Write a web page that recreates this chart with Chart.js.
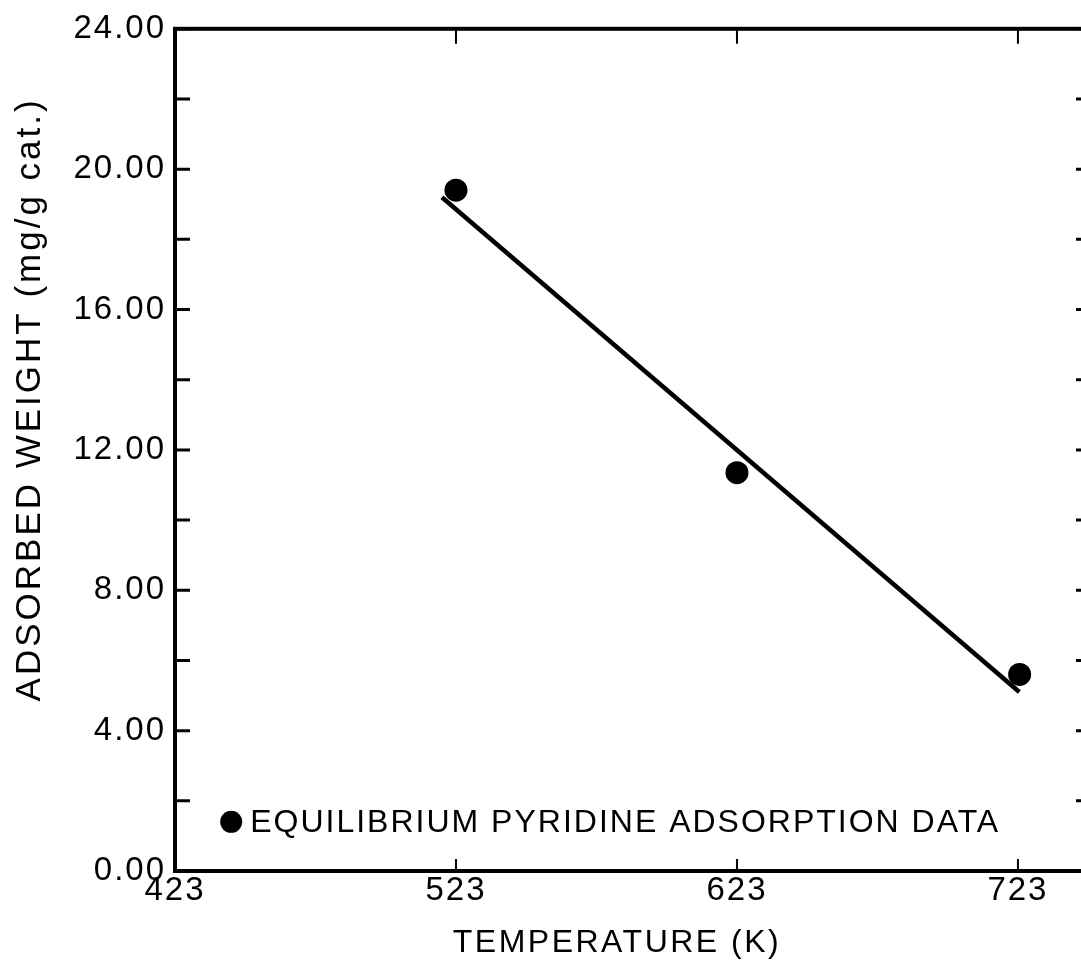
<!DOCTYPE html>
<html>
<head>
<meta charset="utf-8">
<title>Equilibrium pyridine adsorption</title>
<script src="https://cdn.jsdelivr.net/npm/chart.js@4.4.1/dist/chart.umd.min.js"></script>
<style>
  html, body { margin: 0; padding: 0; background: #fff; overflow: hidden; }
  canvas { display: block; }
</style>
</head>
<body>
<canvas id="chart" width="1110" height="970"></canvas>
<script>
// Measured equilibrium adsorption of pyridine
const temperatureK = [523, 623, 723.6];
const adsorbedWeight = [19.4, 11.35, 5.6];

// End points of the fitted straight line
const fitTemperatureK = [518, 723.5];
const fitWeight = [19.2, 5.1];

// Axis ticks
const xTickValues = [423, 523, 623, 723];
const yMin = 0, yMax = 24, yStep = 2, yLabelEvery = 4;

const xTitle = 'TEMPERATURE (K)';
const yTitle = 'ADSORBED WEIGHT (mg/g cat.)';
const legendText = 'EQUILIBRIUM PYRIDINE ADSORPTION DATA';

const FONT_FAMILY = '"Liberation Sans", Arial, Helvetica, sans-serif';
const INK = '#000';

// Boxed frame with inward tick marks on all four sides, titles and legend
const frameAndTicks = {
  id: 'frameAndTicks',
  beforeDraw(chart) {
    chart.ctx.letterSpacing = '2px';
  },
  beforeDatasetsDraw(chart) {
    const { ctx, chartArea: a, scales } = chart;
    ctx.save();
    ctx.strokeStyle = INK;
    ctx.lineWidth = 4;
    ctx.strokeRect(a.left, a.top, a.right - a.left, a.bottom - a.top);

    ctx.lineWidth = 3;
    scales.y.ticks.forEach(t => {
      const y = scales.y.getPixelForValue(t.value);
      ctx.beginPath();
      ctx.moveTo(a.left, y); ctx.lineTo(a.left + 15, y);
      ctx.moveTo(a.right, y); ctx.lineTo(a.right - 15, y);
      ctx.stroke();
    });

    ctx.lineWidth = 2;
    scales.x.ticks.forEach(t => {
      const x = scales.x.getPixelForValue(t.value);
      if (Math.abs(x - a.left) < 2) return;
      ctx.beginPath();
      ctx.moveTo(x, a.bottom); ctx.lineTo(x, a.bottom - 12);
      ctx.moveTo(x, a.top); ctx.lineTo(x, a.top + 15);
      ctx.stroke();
    });
    ctx.restore();
  },
  afterDraw(chart) {
    const { ctx, chartArea: a, scales } = chart;
    ctx.save();
    ctx.fillStyle = INK;
    ctx.textBaseline = 'middle';

    // x axis title
    ctx.letterSpacing = '2.5px';
    ctx.font = '32px ' + FONT_FAMILY;
    ctx.textAlign = 'center';
    ctx.fillText(xTitle, 617, a.bottom + 72);

    // y axis title
    ctx.save();
    ctx.letterSpacing = '3px';
    ctx.font = '35px ' + FONT_FAMILY;
    ctx.translate(30, a.top + (a.bottom - a.top) * 0.44);
    ctx.rotate(-Math.PI / 2);
    ctx.fillText(yTitle, 0, 0);
    ctx.restore();

    // legend entry inside the plot
    const lx = scales.x.getPixelForValue(443);
    const ly = scales.y.getPixelForValue(1.4);
    ctx.beginPath();
    ctx.arc(lx, ly, 11, 0, Math.PI * 2);
    ctx.fill();
    ctx.letterSpacing = '2px';
    ctx.font = '32px ' + FONT_FAMILY;
    ctx.textAlign = 'left';
    ctx.fillText(legendText, lx + 19, ly + 1);
    ctx.restore();
  }
};

const tickFont = { family: FONT_FAMILY, size: 33 };

new Chart(document.getElementById('chart'), {
  type: 'scatter',
  data: {
    datasets: [
      {
        label: 'fit',
        data: fitTemperatureK.map((x, i) => ({ x, y: fitWeight[i] })),
        showLine: true,
        borderColor: INK,
        borderWidth: 4.5,
        pointRadius: 0,
        fill: false
      },
      {
        label: legendText,
        data: temperatureK.map((x, i) => ({ x, y: adsorbedWeight[i] })),
        pointRadius: 11.5,
        pointBackgroundColor: INK,
        pointBorderWidth: 0,
        showLine: false
      }
    ]
  },
  options: {
    responsive: false,
    animation: false,
    devicePixelRatio: 1,
    layout: { padding: { left: 0, top: 28, right: 19, bottom: 0 } },
    plugins: { legend: { display: false }, tooltip: { enabled: false } },
    scales: {
      x: {
        type: 'linear',
        min: 423,
        max: 749,
        afterBuildTicks: s => { s.ticks = xTickValues.map(v => ({ value: v })); },
        afterFit: s => { s.height = 99; },
        grid: { display: false, drawTicks: false },
        border: { display: false },
        ticks: {
          font: tickFont,
          color: INK,
          padding: 0,
          maxRotation: 0,
          autoSkip: false,
          callback: v => String(v)
        }
      },
      y: {
        min: yMin,
        max: yMax,
        afterFit: s => { s.width = 175; },
        grid: { display: false, drawTicks: false },
        border: { display: false },
        ticks: {
          stepSize: yStep,
          font: tickFont,
          color: INK,
          padding: 9,
          autoSkip: false,
          callback: v => (v % yLabelEvery === 0 ? v.toFixed(2) : '')
        }
      }
    }
  },
  plugins: [frameAndTicks]
});
</script>
</body>
</html>
